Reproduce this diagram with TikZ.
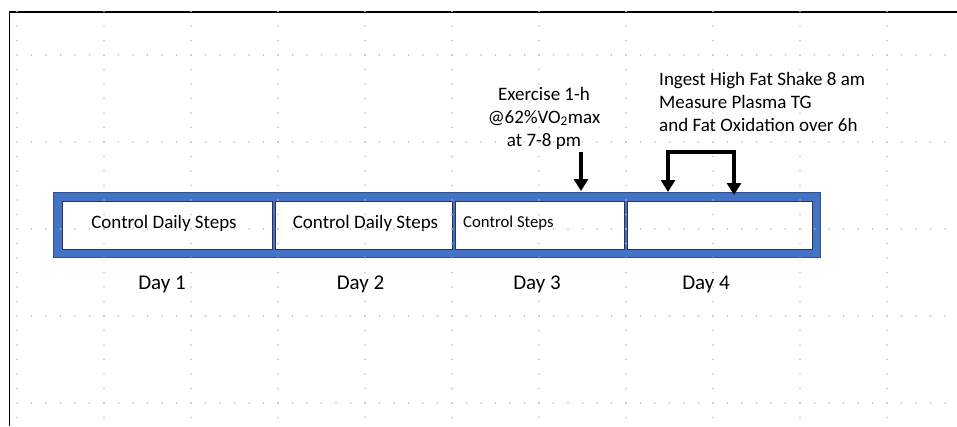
\documentclass[tikz,border=0pt]{standalone}
\usepackage{fontspec}
\setmainfont{Carlito}
\usetikzlibrary{arrows.meta}
\definecolor{offblue}{HTML}{4472C4}
\definecolor{darkblue}{HTML}{2F528F}
\definecolor{celledge}{HTML}{25365A}
\definecolor{dotgray}{HTML}{BBBBBB}
\tikzset{
  stripbox/.style={draw=darkblue, line width=1pt, fill=offblue, inner sep=0pt},
  cellbox/.style={draw=celledge, line width=0.8pt, fill=white, inner sep=0pt},
  txt/.style={inner sep=0pt, anchor=base, font=\fontsize{19}{23}\selectfont},
  smalltxt/.style={inner sep=0pt, anchor=base west, font=\fontsize{16.7}{20}\selectfont},
  daytxt/.style={inner sep=0pt, anchor=base, font=\fontsize{21}{25}\selectfont},
  bigarrow/.style={line width=3.5pt, line join=miter, -{Triangle[width=14pt,length=12pt]}},
  bracketarrow/.style={line width=3.5pt, line join=miter, {Triangle[width=14pt,length=12pt]}-{Triangle[width=14pt,length=12pt]}},
  dot/.style={fill=dotgray, draw=none}
}
\begin{document}
\begin{tikzpicture}[x=1pt,y=-1pt]
\useasboundingbox (0,0) rectangle (957,426);
\fill[white] (0,0) rectangle (957,426);
% frame
\draw[line width=1.6pt] (9.5,426) -- (9.5,12) -- (957,12);
% strip and cells
\node[stripbox, minimum width=767pt, minimum height=65pt] (strip) at (436.5,224.5) {};
\node[cellbox, minimum width=210pt, minimum height=48pt] (c1) at (167,225) {};
\node[cellbox, minimum width=177pt, minimum height=48pt] (c2) at (363.5,225) {};
\node[cellbox, minimum width=169pt, minimum height=48pt] (c3) at (539.5,225) {};
\node[cellbox, minimum width=185pt, minimum height=48pt] (c4) at (719.5,225) {};
% cell texts
\node[txt] (t1) at (164,228) {Control Daily Steps};
\node[txt] (t2) at (365.5,228) {Control Daily Steps};
\node[smalltxt] (t3) at (463,227) {Control Steps};
% day labels
\node[daytxt] (d1) at (162,289) {Day 1};
\node[daytxt] (d2) at (360.5,289) {Day 2};
\node[daytxt] (d3) at (537,289) {Day 3};
\node[daytxt] (d4) at (706,289) {Day 4};
% annotations (base anchor = last line)
\node[txt, align=center] (ex) at (544,146) {Exercise 1-h\\@62\%VO\textsubscript{2}max\\at 7-8 pm};
\node[txt, anchor=base west, align=left] (ing) at (659,131) {Ingest High Fat Shake 8 am\\Measure Plasma TG\\and Fat Oxidation over 6h};
% arrows
\coordinate (exa) at (581,152);
\coordinate (exb) at (581,191);
\draw[bigarrow] (exa) -- (exb);
\coordinate (ba) at (668,192);
\coordinate (bb) at (734,152);
\coordinate (bc) at (734,195);
\draw[bracketarrow] (ba) |- (bb) -- (bc);
% dotted grid
\foreach \gx in {17,104,...,900} {
  \foreach \gy in {11.5,26,...,426} {
    \fill[dot] (\gx,\gy) circle (0.8pt);
  }
}
\foreach \gy in {55,142,229,316,403} {
  \foreach \gx in {31.5,46,...,957} {
    \fill[dot] (\gx,\gy) circle (0.8pt);
  }
}
\end{tikzpicture}
\end{document}
